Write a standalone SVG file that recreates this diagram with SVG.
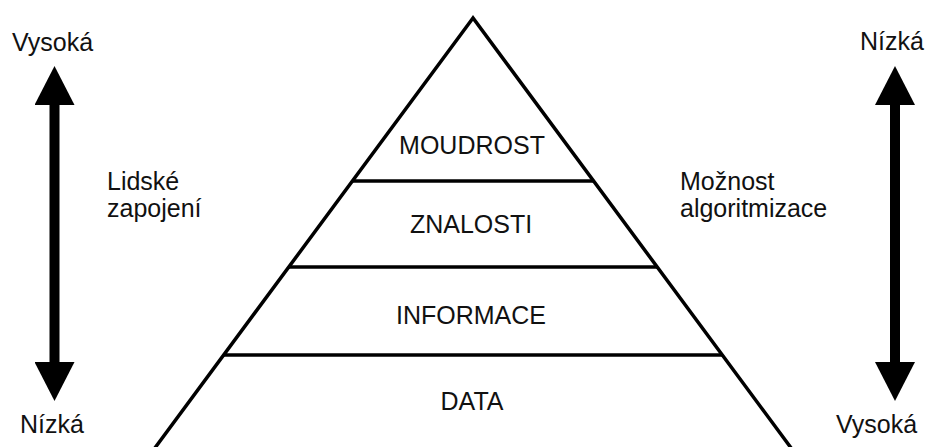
<svg xmlns="http://www.w3.org/2000/svg" width="938" height="447" viewBox="0 0 938 447">
  <style>
    .t { font-family: "Liberation Sans", Arial, Helvetica, sans-serif; font-size: 25px; fill: #111; }
    .c { text-anchor: middle; }
    .edge { fill: none; stroke: #000; stroke-width: 3.5; stroke-linejoin: miter; }
    .shaft { stroke: #000; stroke-width: 10; }
  </style>
  <defs>
    <marker id="head" viewBox="0 0 39 40" markerUnits="userSpaceOnUse" markerWidth="39" markerHeight="40" refX="0" refY="20" orient="auto-start-reverse">
      <path d="M0,0 L39,20 L0,40 Z" fill="#000"/>
    </marker>
  </defs>
  <rect width="938" height="447" fill="#fff"/>

  <g id="pyramid">
    <polygon class="edge" points="473,18 146,460 800,460"/>
  </g>

  <g id="level-moudrost">
    <text class="t c" x="472" y="154">MOUDROST</text>
  </g>
  <g id="level-znalosti">
    <line class="edge" x1="352" y1="181" x2="594" y2="181"/>
    <text class="t c" x="471" y="233">ZNALOSTI</text>
  </g>
  <g id="level-informace">
    <line class="edge" x1="289" y1="267" x2="657" y2="267"/>
    <text class="t c" x="471" y="324">INFORMACE</text>
  </g>
  <g id="level-data">
    <line class="edge" x1="224" y1="355" x2="722" y2="355"/>
    <text class="t c" x="472" y="410">DATA</text>
  </g>

  <g id="left-axis">
    <text class="t" x="12" y="51">Vysoká</text>
    <text class="t" x="20" y="433">Nízká</text>
    <text class="t" x="107" y="190">Lidské</text>
    <text class="t" x="107" y="217">zapojení</text>
  </g>
  <g id="right-axis">
    <text class="t" x="860" y="50">Nízká</text>
    <text class="t" x="836" y="433">Vysoká</text>
    <text class="t" x="680" y="190">Možnost</text>
    <text class="t" x="680" y="217">algoritmizace</text>
  </g>

  <g id="connectors">
    <line class="shaft" x1="54.5" y1="105" x2="54.5" y2="362" marker-start="url(#head)" marker-end="url(#head)"/>
    <line class="shaft" x1="895" y1="105" x2="895" y2="362" marker-start="url(#head)" marker-end="url(#head)"/>
  </g>
</svg>
